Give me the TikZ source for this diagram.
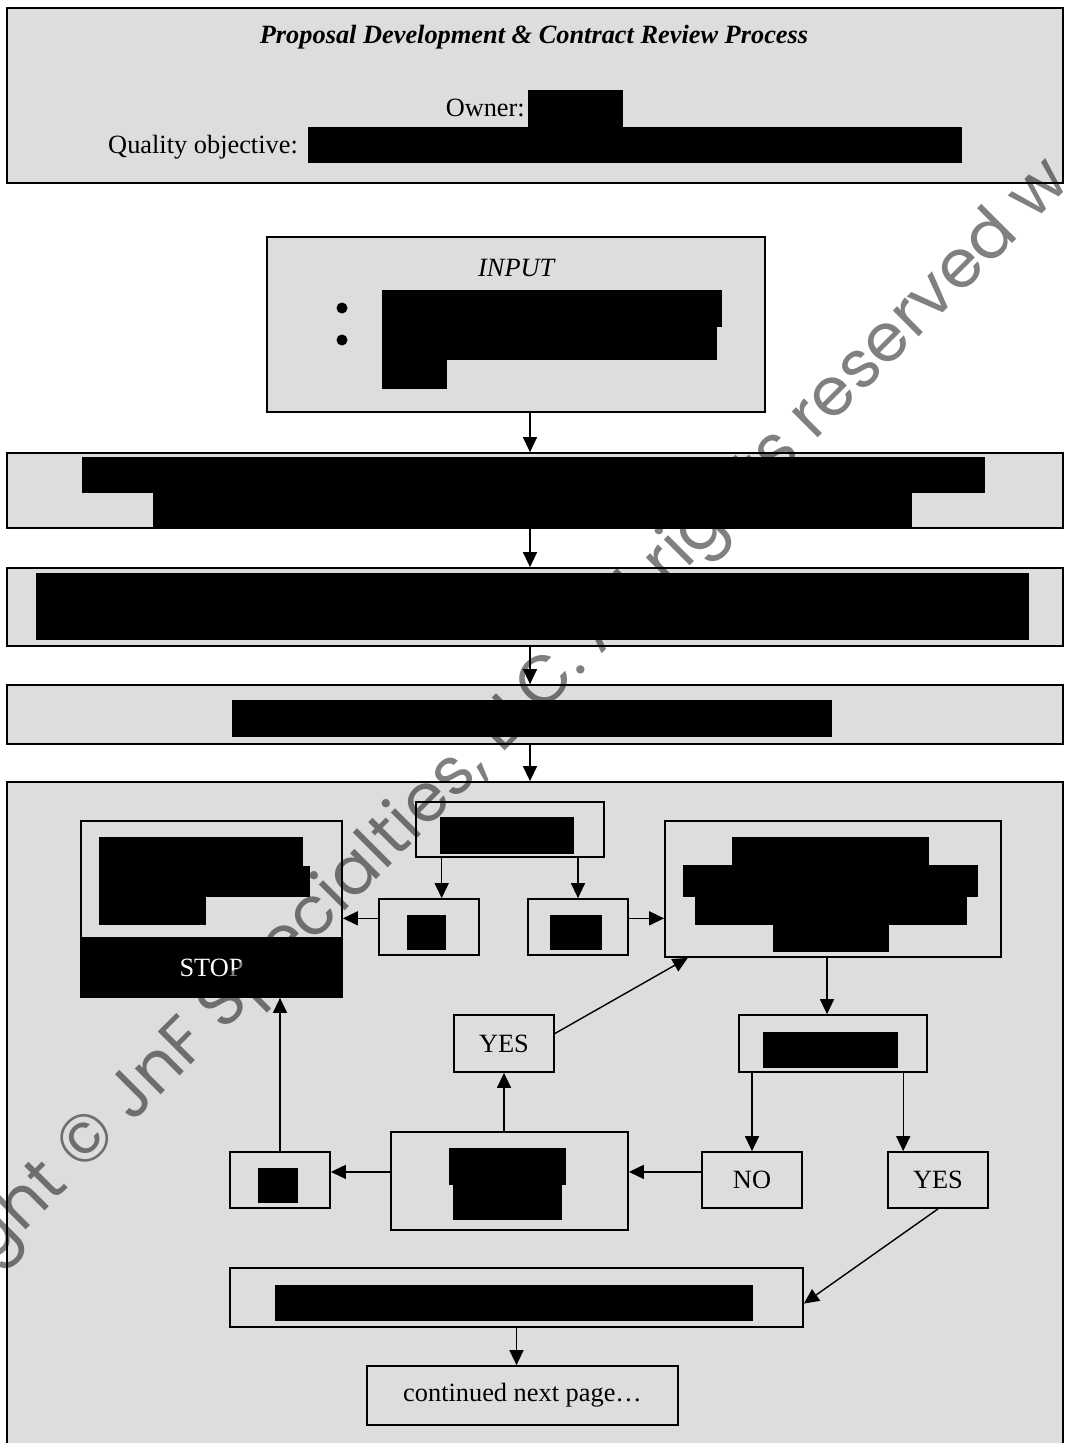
\documentclass[tikz,border=0pt]{standalone}
\usepackage{fontspec}
\setmainfont{Liberation Serif}
\newfontfamily\wmfont{Poppins}
\usetikzlibrary{arrows.meta,calc}
\definecolor{boxgray}{RGB}{221,221,221}

\begin{document}
\begin{tikzpicture}[x=0.02cm, y=-0.02cm,
    every node/.style={font=\fontsize{15}{18}\selectfont},
    box/.style={draw, line width=1pt, fill=boxgray, inner sep=0pt},
    arr/.style={-{Triangle[length=0.3cm,width=0.28cm]}, line width=0.8pt},
    wm/.style={font=\wmfont\fontsize{38}{38}\selectfont, text=black!50, inner sep=0pt}]
    % one pixel of the page
    \def\u{0.02cm}
    \useasboundingbox (0,0) rectangle (1065,1443);

    % header and the steps above the review
    \node[box, minimum width=1056*\u, minimum height=175*\u] (head) at (535,95.5) {};
    \node (title) at (534,37) {\textbf{\textit{Proposal Development \& Contract Review Process}}};
    \node[anchor=east] (owner) at (531,108) {Owner:};
    \node[anchor=east] (goal) at (304,147) {Quality objective:};

    \node[box, minimum width=498*\u, minimum height=175*\u] (input) at (516,324.5) {};
    \node (intitle) at (517,268) {\textit{INPUT}};
    \foreach \y in {308,340} {
        \fill (342,\y) circle[radius=0.11cm];
    }

    \node[box, minimum width=1056*\u, minimum height=75*\u] (stepa) at (535,490.5) {};
    \node[box, minimum width=1056*\u, minimum height=78*\u] (stepb) at (535,607) {};
    \node[box, minimum width=1056*\u, minimum height=59*\u] (stepc) at (535,714.5) {};
    \node[box, minimum width=1056*\u, minimum height=668*\u] (review) at (535,1116) {};

    % review flow
    \node[box, minimum width=188*\u, minimum height=55*\u] (chk) at (510,829.5) {};
    \node[box, minimum width=100*\u, minimum height=56*\u] (nogo) at (429,927) {};
    \node[box, minimum width=100*\u, minimum height=56*\u] (go) at (578,927) {};
    \node[box, minimum width=261*\u, minimum height=176*\u] (stop) at (211.5,909) {};
    \fill[black] (81,937) rectangle (342,997);
    \node[text=white] (stoplbl) at (211.5,968) {STOP};
    \node[box, minimum width=336*\u, minimum height=136*\u] (plan) at (833,889) {};
    \node[box, minimum width=188*\u, minimum height=57*\u] (ok) at (833,1043.5) {};
    \node[box, minimum width=100*\u, minimum height=56*\u] (no) at (752,1180) {NO};
    \node[box, minimum width=100*\u, minimum height=56*\u] (yesb) at (938,1180) {YES};
    \node[box, minimum width=237*\u, minimum height=98*\u] (rev) at (509.5,1181) {};
    \node[box, minimum width=100*\u, minimum height=57*\u] (yesa) at (504,1043.5) {YES};
    \node[box, minimum width=100*\u, minimum height=56*\u] (drop) at (280,1180) {};
    \node[box, minimum width=573*\u, minimum height=59*\u] (exec) at (516.5,1297.5) {};
    \node[box, minimum width=311*\u, minimum height=59*\u] (cont) at (522.5,1395.5) {continued next page…};

    % blacked out text
    \foreach \xa/\ya/\xb/\yb in {528/90/623/127, 308/127/962/163,
        382/290/722/327, 382/327/717/360, 382/360/447/389,
        82/457/985/493, 153/493/912/528, 36/573/1029/640, 232/700/832/737,
        440/817/574/854, 407/915/446/950, 550/915/602/950,
        99/837/303/866, 99/866/310/897, 99/897/206/925,
        732/837/929/865, 683/865/978/897, 695/897/967/925, 773/925/889/952,
        763/1032/898/1068, 449/1148/566/1185, 453/1185/562/1220,
        258/1168/298/1203, 275/1285/753/1321} {
        \fill[black] (\xa,\ya) rectangle (\xb,\yb);
    }

    % arrows
    \coordinate (axis) at (530,0);
    \draw[arr] (input.south -| axis) -- (stepa.north -| axis);
    \draw[arr] (stepa.south -| axis) -- (stepb.north -| axis);
    \draw[arr] (stepb.south -| axis) -- (stepc.north -| axis);
    \draw[arr] (stepc.south -| axis) -- (review.north -| axis);

    \draw[arr] ($(chk.south west)!0.14!(chk.south east)$) coordinate (c1) -- (c1 |- nogo.north);
    \draw[arr] (chk.south -| go.north) -- (go.north);
    \draw[arr] ($(nogo.north west)!0.35!(nogo.south west)$) coordinate (c2) -- (c2 -| stop.east);
    \draw[arr] ($(go.north east)!0.35!(go.south east)$) coordinate (c3) -- (c3 -| plan.west);
    \draw[arr] ([xshift=-0.12cm]plan.south) -- ([xshift=-0.12cm]ok.north);
    \draw[arr] (ok.south -| no.north) -- (no.north);
    \draw[arr] ($(ok.south west)!0.87!(ok.south east)$) coordinate (c4) -- (c4 |- yesb.north);
    \draw[arr] ($(no.north west)!0.36!(no.south west)$) coordinate (c5) -- (c5 -| rev.east);
    \draw[arr] (rev.west |- c5) -- (c5 -| drop.east);
    \draw[arr] (rev.north -| yesa.south) -- (yesa.south);
    \draw[arr] ($(yesa.north east)!0.33!(yesa.south east)$) -- ($(plan.south west)!0.07!(plan.south east)$);
    \draw[arr] (drop.north) -- (drop.north |- stop.south);
    \draw[arr] (yesb.south) -- ($(exec.north east)!0.6!(exec.south east)$);
    \draw[arr] (exec.south) -- (exec.south |- cont.north);

    % watermark
    \begin{scope}[blend mode=multiply]
    \node[wm, rotate=45, anchor=base east] (mark) at (1072,184) {Copyright © JnF Specialties, LLC. All rights reserved w};
    \end{scope}
\end{tikzpicture}
\end{document}
